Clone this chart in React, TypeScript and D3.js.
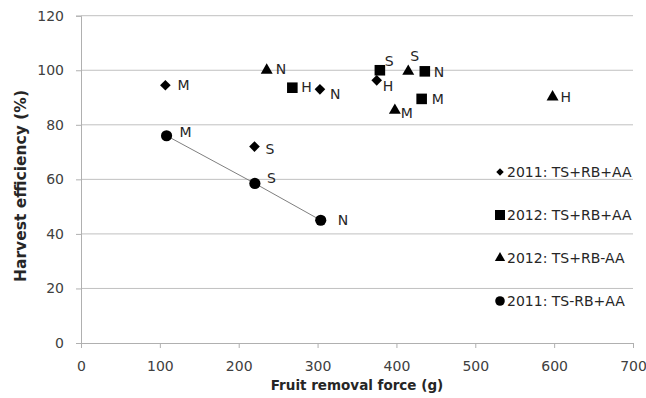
import React, { useEffect, useRef } from "react";
import * as d3 from "d3";

// fruit removal force (g) vs harvest efficiency (%), per cultivar
const seriesNames = ["2011: TS+RB+AA", "2012: TS+RB+AA", "2012: TS+RB-AA", "2011: TS-RB+AA"];

const diamondCultivars = ["M", "S", "N", "H"];
const diamondForce = [107, 220, 303, 375];
const diamondEff = [94.5, 72, 93, 96.3];

const squareCultivars = ["H", "S", "N", "M"];
const squareForce = [268, 379, 436, 432];
const squareEff = [93.6, 100, 99.6, 89.5];

const triangleCultivars = ["N", "S", "M", "H"];
const triangleForce = [235.5, 415, 398, 598];
const triangleEff = [100, 99.6, 85.3, 90.2];

const circleCultivars = ["M", "S", "N"];
const circleForce = [108.5, 220.5, 304];
const circleEff = [76, 58.5, 45];

const xTicks = [0, 100, 200, 300, 400, 500, 600, 700];
const yTicks = [0, 20, 40, 60, 80, 100, 120];

const W = 646;
const H = 398;
const font = "'DejaVu Sans', sans-serif";

// where each cultivar letter sits relative to its marker
const nudge: Record<string, [number, number][]> = {
    diamond: [[12, 0], [11, 2], [10, 5], [6, 6]],
    square: [[9, -1], [5, -9], [9, 1], [10, 0]],
    triangle: [[9, -1], [2, -15], [6, 3], [8, 0]],
    circle: [[13, -4], [12, -5], [17, 0]],
};

export default function App() {
    const ref = useRef<SVGSVGElement>(null);

    useEffect(() => {
        const svg = d3.select(ref.current);
        svg.selectAll("*").remove();

        const x = d3.scaleLinear().domain([0, 700]).range([81, 633]);
        const y = d3.scaleLinear().domain([0, 120]).range([343, 15.7]);

        // gridlines
        svg.append("g")
            .selectAll("line")
            .data(yTicks.slice(1))
            .join("line")
            .attr("x1", x(0)).attr("x2", x(700))
            .attr("y1", d => y(d)).attr("y2", d => y(d))
            .attr("stroke", "#c0c0c0").attr("stroke-width", 1);

        // y axis
        const yAxis = svg.append("g")
            .attr("transform", `translate(${x(0)},0)`)
            .call(d3.axisLeft(y).tickValues(yTicks).tickSize(5).tickPadding(12));
        // x axis
        const xAxis = svg.append("g")
            .attr("transform", `translate(0,${y(0)})`)
            .call(d3.axisBottom(x).tickValues(xTicks).tickSize(5).tickPadding(13));
        [yAxis, xAxis].forEach(a => {
            a.selectAll("path").attr("stroke", "#b0b0b0");
            a.selectAll("line").attr("stroke", "#b0b0b0");
            a.selectAll("text")
                .attr("fill", "#404040")
                .style("font-family", font)
                .style("font-size", "14px");
        });

        // axis titles
        svg.append("text")
            .attr("x", 357).attr("y", 390)
            .attr("text-anchor", "middle")
            .style("font-family", font).style("font-size", "13.5px").style("font-weight", "bold")
            .attr("fill", "#262626")
            .text("Fruit removal force (g)");
        svg.append("text")
            .attr("transform", "translate(26,186) rotate(-90)")
            .attr("text-anchor", "middle")
            .style("font-family", font).style("font-size", "15.5px").style("font-weight", "bold")
            .attr("fill", "#262626")
            .text("Harvest efficiency (%)");

        // connecting line for the 2011 TS-RB+AA set
        const line = d3.line<number>()
            .x((_, i) => x(circleForce[i]))
            .y(d => y(d));
        svg.append("path")
            .attr("d", line(circleEff))
            .attr("fill", "none")
            .attr("stroke", "#7f7f7f")
            .attr("stroke-width", 1);

        const sets = [
            { key: "diamond", sym: d3.symbolDiamond2, size: 72, f: diamondForce, e: diamondEff, c: diamondCultivars },
            { key: "square", sym: d3.symbolSquare, size: 112, f: squareForce, e: squareEff, c: squareCultivars },
            { key: "triangle", sym: d3.symbolTriangle, size: 62, f: triangleForce, e: triangleEff, c: triangleCultivars },
            { key: "circle", sym: d3.symbolCircle, size: 98, f: circleForce, e: circleEff, c: circleCultivars },
        ];

        sets.forEach(s => {
            const g = svg.append("g");
            const pts = s.f.map((f, i) => ({ f, e: s.e[i], c: s.c[i], i }));
            g.selectAll("path")
                .data(pts)
                .join("path")
                .attr("transform", d => `translate(${x(d.f)},${y(d.e)})`)
                .attr("d", d3.symbol(s.sym, s.size)())
                .attr("fill", "#000");
            g.selectAll("text")
                .data(pts)
                .join("text")
                .attr("x", d => x(d.f) + nudge[s.key][d.i][0])
                .attr("y", d => y(d.e) + nudge[s.key][d.i][1])
                .attr("dominant-baseline", "central")
                .style("font-family", font).style("font-size", "14px")
                .attr("fill", "#262626")
                .text(d => d.c);
        });

        // legend
        const legendSizes = [36, 100, 46, 72];
        const leg = svg.append("g");
        seriesNames.forEach((name, i) => {
            const ly = 172 + i * 43;
            leg.append("path")
                .attr("transform", `translate(500,${ly})`)
                .attr("d", d3.symbol(sets[i].sym, legendSizes[i])())
                .attr("fill", "#000");
            leg.append("text")
                .attr("x", 507).attr("y", ly)
                .attr("dominant-baseline", "central")
                .style("font-family", font).style("font-size", "14px")
                .attr("fill", "#262626")
                .text(name);
        });
    }, []);

    return (
        <svg
            ref={ref}
            width={W}
            height={H}
            viewBox={`0 0 ${W} ${H}`}
            style={{ position: "absolute", left: 0, top: 0, background: "#fff" }}
        />
    );
}
